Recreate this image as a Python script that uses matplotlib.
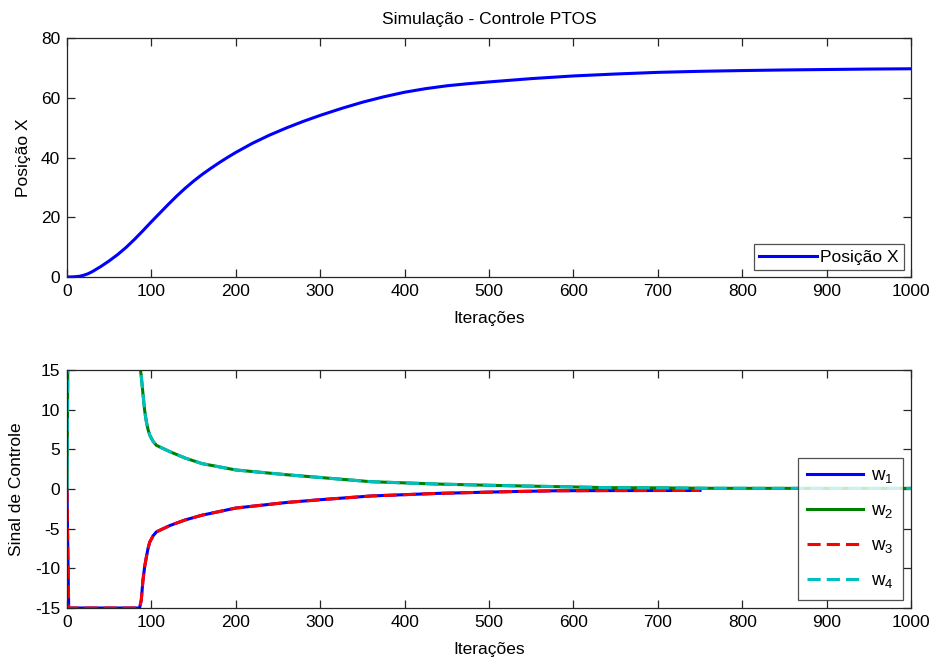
import matplotlib
matplotlib.use("Agg")
import matplotlib.pyplot as plt

plt.rcParams['font.family'] = ['Liberation Sans', 'DejaVu Sans']
plt.rcParams['mathtext.fontset'] = 'custom'
plt.rcParams['mathtext.rm'] = 'Liberation Sans'
plt.rcParams['mathtext.it'] = 'Liberation Sans'
plt.rcParams['axes.unicode_minus'] = False

# ---- data: top subplot (position X vs iteration) ----
pos_iter = [0, 5, 10, 15, 20, 25, 30, 40, 50, 60, 70, 80, 90, 100, 110, 120, 130,
            140, 150, 160, 170, 180, 190, 200, 220, 240, 260, 280, 300, 325, 350,
            375, 400, 425, 450, 475, 500, 550, 600, 650, 700, 750, 800, 850, 900,
            950, 1000]
pos_x = [0, 0.03, 0.1, 0.25, 0.6, 1.1, 1.8, 3.5, 5.4, 7.5, 9.9, 12.6, 15.5, 18.5,
         21.4, 24.3, 27.1, 29.7, 32.1, 34.3, 36.3, 38.2, 40.0, 41.7, 44.8, 47.5,
         49.9, 52.1, 54.1, 56.4, 58.5, 60.3, 61.85, 63.05, 64.0, 64.7, 65.3, 66.4,
         67.3, 67.95, 68.5, 68.85, 69.1, 69.3, 69.45, 69.6, 69.7]

# ---- data: bottom subplot (control signals) ----
neg_iter = [0, 1, 2, 86, 88, 90, 92, 94, 96, 98, 102, 106, 114, 122, 140, 160,
            200, 260, 300, 360, 440, 520, 580, 640, 700, 750]
w1 = [0, -8, -15, -15, -14.0, -11.5, -9.8, -8.6, -7.5, -6.7, -5.9, -5.4, -5.0, -4.6,
      -3.9, -3.3, -2.4, -1.7, -1.35, -0.88, -0.55, -0.34, -0.22, -0.2, -0.19, -0.18]
w3 = list(w1)

pos_iter2 = [0, 1, 2, 86, 88, 90, 92, 94, 96, 98, 102, 106, 114, 122, 140, 160,
             200, 260, 300, 360, 440, 520, 580, 640, 700, 760, 850, 1000]
w2 = [0, 16, 16, 16, 14.2, 12.0, 9.9, 8.5, 7.5, 6.8, 6.0, 5.5, 5.1, 4.7,
      3.9, 3.2, 2.4, 1.8, 1.45, 0.92, 0.62, 0.42, 0.3, 0.17, 0.14, 0.09, 0.08, 0.08]
w4 = list(w2)

W, H, DPI = 932, 659, 100
fig = plt.figure(figsize=(W / DPI, H / DPI), dpi=DPI)

def px_axes(left, top, right, bottom):
    return fig.add_axes([left / W, 1 - bottom / H, (right - left) / W, (bottom - top) / H])

ax1 = px_axes(67, 38, 911, 277)
ax2 = px_axes(67, 370, 911, 608)

FS = 12.5
spine_c = '#262626'

def style(ax):
    for s in ax.spines.values():
        s.set_color(spine_c)
        s.set_linewidth(0.9)
    ax.tick_params(direction='in', length=6, width=0.9, color=spine_c,
                   top=True, right=True, labelsize=FS, pad=5)

ax1.plot(pos_iter, pos_x, color=(0, 0, 1), lw=2.2, label='Posição X')
ax1.set_xlim(0, 1000)
ax1.set_ylim(0, 80)
ax1.set_xticks(range(0, 1001, 100))
ax1.set_yticks(range(0, 81, 20))
ax1.set_xlabel('Iterações', fontsize=FS, labelpad=9)
ax1.set_ylabel('Posição X', fontsize=FS, labelpad=7)
ax1.set_title('Simulação - Controle PTOS', fontsize=FS, pad=10)
style(ax1)
leg1 = ax1.legend(loc='lower right', fontsize=FS, frameon=True, fancybox=False,
                  handlelength=3.3, handletextpad=0.2, borderpad=0.3,
                  borderaxespad=0.4)
leg1.get_frame().set_edgecolor(spine_c)
leg1.get_frame().set_linewidth(0.9)

ax2.plot(neg_iter, w1, color=(0, 0, 1), lw=2.2, label='$w_1$')
ax2.plot(pos_iter2, w2, color=(0, 0.5, 0), lw=2.2, label='$w_2$')
ax2.plot(neg_iter, w3, color=(1, 0, 0), lw=2.2, ls=(0, (4.3, 2.0)), label='$w_3$')
ax2.plot(pos_iter2, w4, color=(0, 0.75, 0.75), lw=2.2, ls=(0, (4.3, 2.0)), label='$w_4$')
ax2.set_xlim(0, 1000)
ax2.set_ylim(-15, 15)
ax2.set_xticks(range(0, 1001, 100))
ax2.set_yticks(range(-15, 16, 5))
ax2.set_xlabel('Iterações', fontsize=FS, labelpad=9)
ax2.set_ylabel('Sinal de Controle', fontsize=FS, labelpad=8)
style(ax2)
leg2 = ax2.legend(loc='lower right', fontsize=FS + 1, frameon=True, fancybox=False,
                  handlelength=3.0, handletextpad=0.4, borderpad=0.5,
                  labelspacing=0.9, borderaxespad=0.45)
leg2.get_frame().set_edgecolor(spine_c)
leg2.get_frame().set_linewidth(0.9)

fig.savefig('out.png', dpi=DPI, facecolor='white')
